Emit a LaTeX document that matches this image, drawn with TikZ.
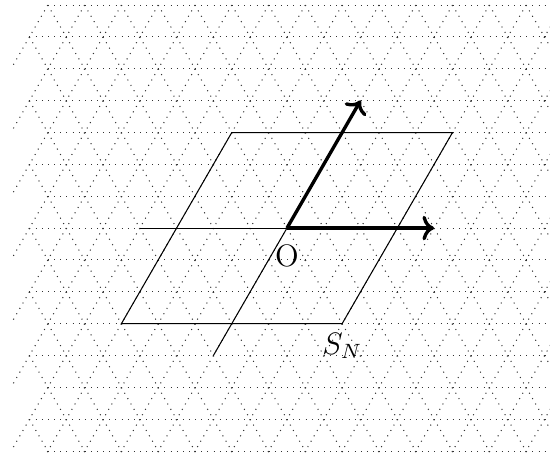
\documentclass[tikz,border=0pt]{standalone}
\usetikzlibrary{arrows.meta}
\begin{document}
\begin{tikzpicture}[x=0.5cm,y=0.5cm,
  lat/.style={dotted,line width=0.4pt,draw=black!80},
  axisline/.style={line width=0.4pt},
  vec/.style={-{To[width=9.5pt,length=4.5pt]},line width=1.3pt},
  lbl/.style={font=\fontsize{12pt}{14pt}\selectfont}]
\useasboundingbox (-7.80,-6.14) rectangle (7.15,6.20);
\clip (-7.80,-6.14) rectangle (7.15,6.20);
% triangular lattice
\foreach \j in {-7,...,7}{
  \pgfmathsetmacro\off{0.5*abs(mod(\j,2))}
  \pgfmathsetmacro\py{0.866025*\j}
  \foreach \k in {0,...,15}{
    \pgfmathsetmacro\px{-7+\off+\k}
    \draw[lat] (\px,\py) -- ++(1,0);
    \draw[lat] (\px,\py) -- ++(-0.5,-0.866025);
    \draw[lat] (\px,\py) -- ++(0.5,-0.866025);
  }
}
% key points
\coordinate (O) at (0,0);
\coordinate (E) at (4,0);
\coordinate (F) at (2,3.4641);
\coordinate (W) at (-4,0);
\coordinate (B) at (-2,-3.4641);
\coordinate (C1) at (-1.5,2.598);
\coordinate (C2) at (4.5,2.598);
\coordinate (C3) at (1.5,-2.598);
\coordinate (C4) at (-4.5,-2.598);
% parallelogram
\draw[axisline] (C1) -- (C2) -- (C3) -- (C4) -- cycle;
% axes
\draw[axisline] (W) -- (O);
\draw[axisline] (B) -- (O);
\draw[vec] (O) -- (E);
\draw[vec] (O) -- (F);
% labels
\node[lbl, below, yshift=-3pt] (Olab) at (O) {O};
\node[lbl, below] (SN) at (C3) {$S_N$};
\end{tikzpicture}
\end{document}
